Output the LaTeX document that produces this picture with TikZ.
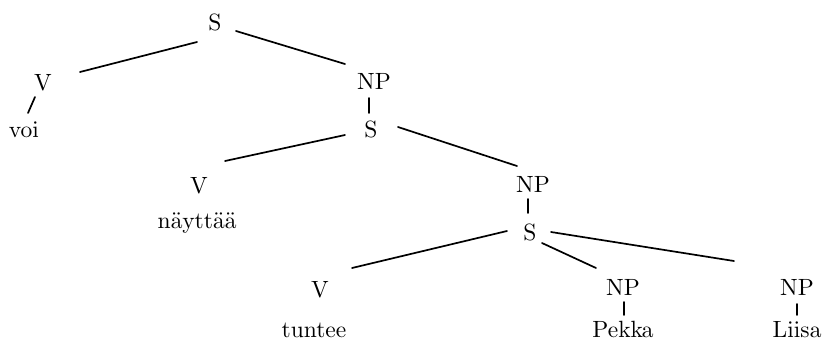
\documentclass[tikz,border=0pt]{standalone}
\font\treefont=cmr10 at 23.5pt
\begin{document}
\begin{tikzpicture}[x=1pt,y=-1pt,
  lbl/.style={anchor=base,inner sep=0pt,font=\treefont},
  edge/.style={line width=1.7pt,line cap=round}]
\useasboundingbox (0,0) rectangle (825,341);
\node[lbl] (s1) at (215,30) {S};
\node[lbl] (v1) at (43,90) {V};
\node[lbl] (voi) at (24,137) {voi};
\node[lbl] (np1) at (374,89) {NP};
\node[lbl] (s2) at (371,137) {S};
\node[lbl] (v2) at (199,193) {V};
\node[lbl] (nayttaa) at (197,228) {n\accent127 aytt\accent127 a\accent127 a};
\node[lbl] (np2) at (533,192) {NP};
\node[lbl] (s3) at (530,240) {S};
\node[lbl] (v3) at (320,297) {V};
\node[lbl] (tuntee) at (314,337) {tuntee};
\node[lbl] (np3) at (623,295) {NP};
\node[lbl] (pekka) at (623,337) {Pekka};
\node[lbl] (np4) at (797,295) {NP};
\node[lbl] (liisa) at (797,337) {Liisa};
\draw[edge] ([shift={(-18,12)}]s1.base) -- ([shift={(37,-18)}]v1.base);
\draw[edge] ([shift={(21,1)}]s1.base) -- ([shift={(-29,-25)}]np1.base);
\draw[edge] ([shift={(-8,7)}]v1.base) -- ([shift={(4,-24)}]voi.base);
\draw[edge] ([shift={(-5,9)}]np1.base) -- ([shift={(-2,-24)}]s2.base);
\draw[edge] ([shift={(-26,-2)}]s2.base) -- ([shift={(26,-32)}]v2.base);
\draw[edge] ([shift={(27,-10)}]s2.base) -- ([shift={(-16,-26)}]np2.base);
\draw[edge] ([shift={(-5,7)}]np2.base) -- ([shift={(-2,-27)}]s3.base);
\draw[edge] ([shift={(-23,-9)}]s3.base) -- ([shift={(32,-29)}]v3.base);
\draw[edge] ([shift={(12,3)}]s3.base) -- ([shift={(-27,-27)}]np3.base);
\draw[edge] ([shift={(21,-8)}]s3.base) -- ([shift={(-63,-34)}]np4.base);
\draw[edge] ([shift={(1,7)}]np3.base) -- ([shift={(1,-22)}]pekka.base);
\draw[edge] ([shift={(0,9)}]np4.base) -- ([shift={(0,-22)}]liisa.base);
\end{tikzpicture}
\end{document}
